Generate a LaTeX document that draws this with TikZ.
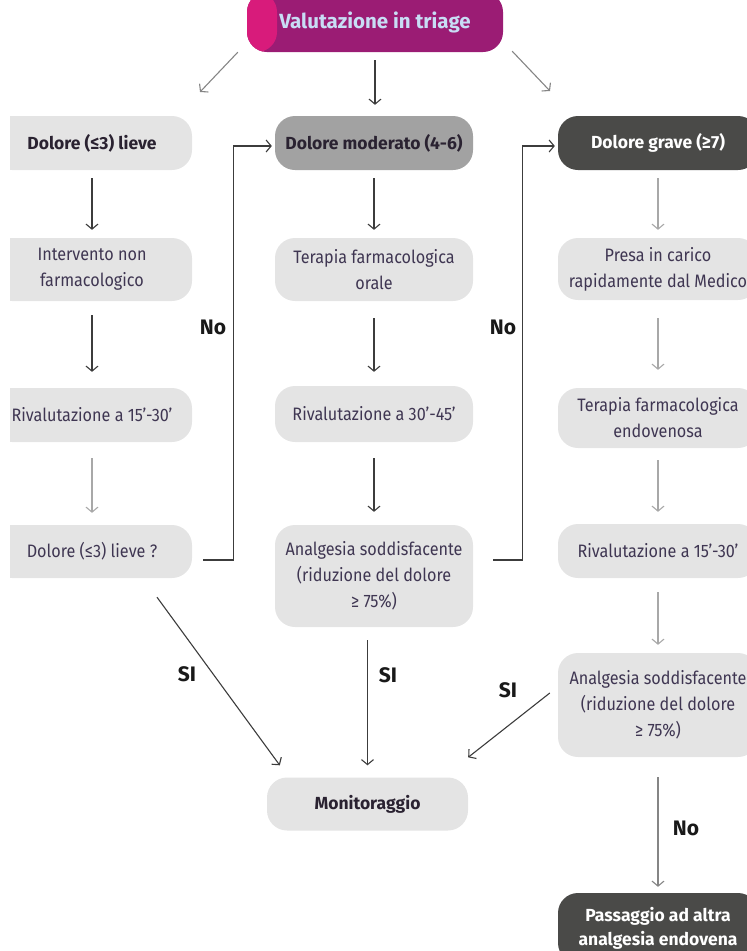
\documentclass[tikz,border=0pt]{standalone}
\usepackage{fontspec}
\setmainfont{Fira Sans}[FakeStretch=0.9]
\newfontfamily\bfam{Fira Sans}
\usetikzlibrary{arrows.meta,calc}
\definecolor{boxg}{HTML}{E4E4E4}
\definecolor{midg}{HTML}{A2A2A2}
\definecolor{darkg}{HTML}{4A4A48}
\definecolor{purp}{HTML}{9B1C74}
\definecolor{pinkc}{HTML}{D81B7B}
\definecolor{ltblue}{HTML}{C8DDF5}
\definecolor{txt}{HTML}{3F3652}
\definecolor{txtb}{HTML}{2A2231}
\definecolor{dk}{HTML}{3C3C3C}
\definecolor{lt}{HTML}{A8A8A8}
\definecolor{md}{HTML}{858585}
\begin{document}
\begin{tikzpicture}[x=1pt,y=-1pt,
  box/.style={rectangle, rounded corners=20pt, fill=boxg, inner sep=0pt,
    minimum width=200pt, align=center, text=txt,
    font=\fontsize{18}{26}\selectfont},
  bbox/.style={box, text=txtb, font=\bfam\fontsize{17.5}{26}\selectfont\bfseries},
  dbox/.style={box, fill=darkg, text=white, font=\bfam\fontsize{17.5}{24}\selectfont\bfseries},
  arr/.style={draw=dk, line width=1.1pt, -{Straight Barb[length=5pt,width=12pt]}},
  larr/.style={arr, draw=lt},
  marr/.style={arr, draw=md},
  lab/.style={font=\bfam\fontsize{21}{22}\selectfont\bfseries, text=black!90}]
\useasboundingbox (0,0) rectangle (747,951);
\clip (0,0) rectangle (747,951);

% top
\node[rectangle, rounded corners=20pt, fill=purp, minimum width=256pt, minimum height=60pt,
  inner sep=0pt, text=ltblue, font=\bfam\fontsize{20.5}{22}\selectfont\bfseries,
  path picture={\fill[pinkc] (path picture bounding box.south west) rectangle ([xshift=30pt]path picture bounding box.north west);}]
  (top) at (375,22) {Valutazione in triage};

% left column (clipped at the left)
\begin{scope}
\clip (10,0) rectangle (747,951);
\node[bbox, minimum height=54pt] (L1) at (92,143) {Dolore (≤3) lieve};
\node[box, minimum height=63pt] (L2) at (92,269.5) {Intervento non\\farmacologico};
\node[box, minimum height=54pt] (L3) at (92,415) {Rivalutazione a 15’-30’};
\node[box, minimum height=53pt] (L4) at (92,551.5) {Dolore (≤3) lieve ?};
\end{scope}

% middle column
\node[bbox, fill=midg, minimum width=198pt, minimum height=54pt] (M1) at (374,143) {Dolore moderato (4-6)};
\node[box, minimum width=198pt, minimum height=63pt] (M2) at (374,269.5) {Terapia farmacologica\\orale};
\node[box, minimum width=198pt, minimum height=56pt] (M3) at (374,414) {Rivalutazione a 30’-45’};
\node[box, minimum width=198pt, minimum height=102pt] (M4) at (374,576) {Analgesia soddisfacente\\(riduzione del dolore\\≥ 75\%)};
\node[bbox, minimum width=201pt, minimum height=53pt] (Mon) at (367.5,804) {Monitoraggio};

% right column
\node[dbox, minimum height=54pt] (R1) at (658,143) {Dolore grave (≥7)};
\node[box, minimum height=62pt] (R2) at (658,269) {Presa in carico\\rapidamente dal Medico};
\node[box, minimum height=60pt] (R3) at (658,418) {Terapia farmacologica\\endovenosa};
\node[box, minimum height=54pt] (R4) at (658,551) {Rivalutazione a 15’-30’};
\node[box, minimum height=104pt] (R5) at (658,705) {Analgesia soddisfacente\\(riduzione del dolore\\≥ 75\%)};
\node[dbox, minimum height=70pt] (R6) at (658,928) {Passaggio ad altra\\analgesia endovena};

% top arrows
\coordinate (tlE) at (200,92);
\coordinate (trE) at (550,91);
\draw[marr] ($(top.south west)+(-9,0)$) -- (tlE);
\draw[arr, shorten <=8pt, shorten >=11pt] (top.south) -- (top.south |- M1.north);
\draw[marr] ($(top.south east)+(9,-1)$) -- (trE);

% left column arrows
\draw[arr, shorten <=8pt, shorten >=8pt] (L1) -- (L2);
\draw[arr, shorten <=14pt, shorten >=16pt] (L2) -- (L3);
\draw[larr, shorten <=16pt, shorten >=12pt] (L3) -- (L4);

% middle column arrows
\draw[arr, shorten <=8pt, shorten >=8pt] (M1) -- (M2);
\draw[arr, shorten <=17pt, shorten >=14pt] (M2) -- (M3);
\draw[arr, shorten <=16pt, shorten >=13pt] (M3) -- (M4);
\draw[arr, shorten <=13pt, shorten >=12pt] (M4.south -| Mon.north) -- (Mon.north);

% right column arrows
\draw[larr, shorten <=8pt, shorten >=8pt] (R1) -- (R2);
\draw[larr, shorten <=18pt, shorten >=18pt] (R2) -- (R3);
\draw[larr, shorten <=12pt, shorten >=12pt] (R3) -- (R4);
\draw[larr, shorten <=14pt, shorten >=8pt] (R4) -- (R5);
\draw[marr, shorten <=20pt, shorten >=6pt] (R5) -- (R6);

% feedback connectors
\draw[arr, shorten >=3pt] ($(L4.east)+(11,8.5)$) -- ++(30,0) |- ($(M1.west)+(0,3)$);
\draw[arr, shorten >=3pt] ($(M4.east)+(20,-16)$) -- ++(29,0) |- ($(R1.west)+(0,3)$);

% diagonals to Monitoraggio
\draw[arr] ($(L4.south)+(65,19)$) -- ($(Mon.north west)+(13,-12)$);
\draw[arr] ($(R5.west)+(-8,-12)$) -- ($(Mon.north east)+(0,-20)$);

% labels
\node[lab] (no1) at (213,327) {No};
\node[lab] (no2) at (503,327) {No};
\node[lab] (si1) at (187,674) {SI};
\node[lab] (si2) at (388,675) {SI};
\node[lab] (si3) at (508,690) {SI};
\node[lab] (no3) at (686,828) {No};
\end{tikzpicture}
\end{document}
